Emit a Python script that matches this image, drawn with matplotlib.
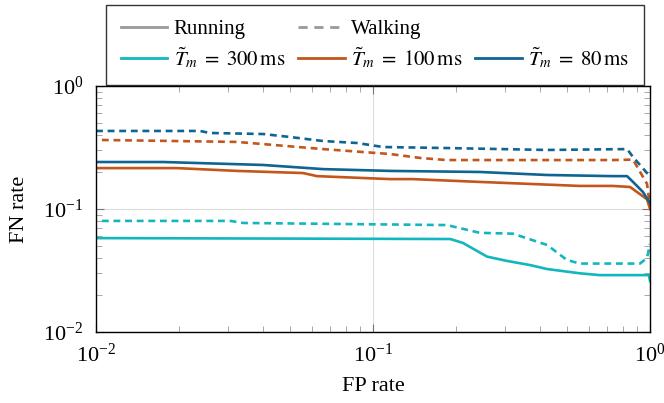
import matplotlib
matplotlib.use("Agg")
import matplotlib.pyplot as plt
from matplotlib.lines import Line2D
import numpy as np

plt.rcParams['font.family'] = ['Liberation Serif', 'DejaVu Serif']
plt.rcParams['mathtext.fontset'] = 'stix'

# ---- data ----
# T=80 ms (blue)
fp_80_run = [0.01, 0.0175, 0.0401, 0.066, 0.115, 0.243, 0.425, 0.734, 0.826, 0.868, 0.944, 0.984, 1.0]
fn_80_run = [0.241, 0.241, 0.228, 0.211, 0.204, 0.200, 0.189, 0.185, 0.185, 0.166, 0.137, 0.118, 0.112]
fp_80_walk = [0.01, 0.0237, 0.0258, 0.0401, 0.0501, 0.066, 0.0875, 0.1087, 0.185, 0.425, 0.826, 0.868, 0.975, 1.0]
fn_80_walk = [0.431, 0.431, 0.415, 0.407, 0.385, 0.357, 0.344, 0.319, 0.313, 0.302, 0.307, 0.265, 0.196, 0.19]
# T=100 ms (orange)
fp_100_run = [0.01, 0.0196, 0.0323, 0.0559, 0.0628, 0.115, 0.139, 0.243, 0.558, 0.734, 0.847, 0.975, 1.0]
fn_100_run = [0.215, 0.215, 0.204, 0.196, 0.185, 0.175, 0.175, 0.166, 0.154, 0.154, 0.151, 0.120, 0.100]
fp_100_walk = [0.0105, 0.0323, 0.066, 0.115, 0.148, 0.184, 0.734, 0.868, 0.975, 1.0]
fn_100_walk = [0.364, 0.351, 0.307, 0.280, 0.260, 0.250, 0.250, 0.252, 0.160, 0.105]
# T=300 ms (cyan)
fp_300_run = [0.01, 0.19, 0.211, 0.258, 0.305, 0.369, 0.425, 0.558, 0.659, 0.944, 0.99, 1.0]
fn_300_run = [0.058, 0.057, 0.053, 0.041, 0.0378, 0.035, 0.0325, 0.030, 0.029, 0.029, 0.029, 0.026]
fp_300_walk = [0.0105, 0.0305, 0.034, 0.185, 0.211, 0.243, 0.32, 0.425, 0.501, 0.558, 0.92, 0.975, 1.0]
fn_300_walk = [0.080, 0.080, 0.077, 0.074, 0.069, 0.064, 0.063, 0.051, 0.0385, 0.036, 0.036, 0.040, 0.052]

legend_labels = ['Running', r'$\tilde{T}_m \;=\; 300\,\mathrm{ms}$', 'Walking',
                 r'$\tilde{T}_m \;=\; 100\,\mathrm{ms}$', '', r'$\tilde{T}_m \;=\; 80\,\mathrm{ms}$']

c_cyan = '#12B7BE'
c_orange = '#C4561C'
c_blue = '#0E6592'
dash = (0, (2.6, 1.8))

fig = plt.figure(figsize=(6.64, 4.03), dpi=100)
ax = fig.add_axes([0.1446, 0.1762, 0.8344, 0.6104])

lw = 1.9
ax.plot(fp_300_run, fn_300_run, color=c_cyan, lw=lw)
ax.plot(fp_300_walk, fn_300_walk, color=c_cyan, lw=lw, ls=dash)
ax.plot(fp_100_run, fn_100_run, color=c_orange, lw=lw)
ax.plot(fp_100_walk, fn_100_walk, color=c_orange, lw=lw, ls=dash)
ax.plot(fp_80_run, fn_80_run, color=c_blue, lw=lw)
ax.plot(fp_80_walk, fn_80_walk, color=c_blue, lw=lw, ls=dash)

ax.set_xscale('log')
ax.set_yscale('log')
ax.set_xlim(1e-2, 1)
ax.set_ylim(1e-2, 1)
ax.grid(True, which='major', color='#dddddd', lw=0.8)
ax.tick_params(which='both', direction='in', top=True, right=True, labelsize=16)
ax.tick_params(axis='x', which='major', pad=8)
ax.tick_params(axis='y', which='major', pad=9)
ax.tick_params(which='major', length=6, color='#777777')
ax.tick_params(which='minor', length=4, color='#999999')
for s in ax.spines.values():
    s.set_linewidth(1.0)
ax.set_xlabel('FP rate', fontsize=16, labelpad=8)
ax.set_ylabel('FN rate', fontsize=16, labelpad=10)

handles = [
    Line2D([], [], color='#999999', lw=2),
    Line2D([], [], color=c_cyan, lw=2),
    Line2D([], [], color='#999999', lw=2, ls=(0, (3.3, 2.4))),
    Line2D([], [], color=c_orange, lw=2),
    Line2D([], [], color='none', lw=0),
    Line2D([], [], color=c_blue, lw=2),
]
leg = fig.legend(handles, legend_labels, ncol=3, loc='upper left',
                 bbox_to_anchor=(106 / 664, 1 - 5 / 403),
                 fontsize=15, frameon=True, fancybox=False, edgecolor='black',
                 handlelength=2.25, handletextpad=0.3, columnspacing=0.6, borderpad=0.7,
                 labelspacing=0.3, borderaxespad=0.0)
leg.get_frame().set_linewidth(1.0)

fig.savefig('out.png', dpi=100)
